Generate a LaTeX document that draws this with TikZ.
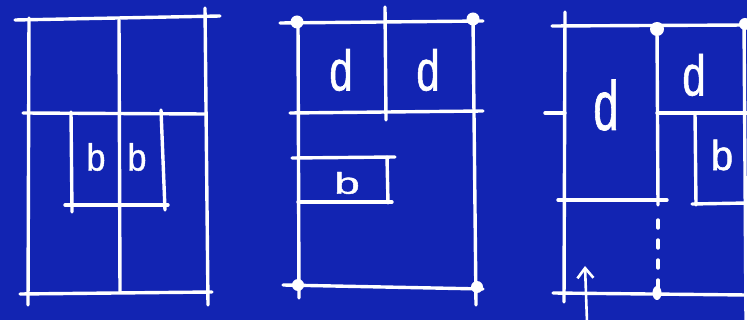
\documentclass[tikz,border=0pt]{standalone}
\usepackage{fontspec}
\setmainfont{Liberation Sans}
\newfontfamily\handf[FakeBold=1.2]{Liberation Sans}
\usetikzlibrary{arrows.meta}
\definecolor{bp}{RGB}{18,36,178}
\tikzset{
  ln/.style={draw=white,line width=3.4pt,line cap=round},
  dot/.style={fill=white},
  lbl/.style={text=white,inner sep=0pt,anchor=center,font=\handf}
}
\newcommand{\hand}[4]{\scalebox{#2}[#3]{\fontsize{#1}{#1}\selectfont #4}}
\begin{document}
\begin{tikzpicture}[x=1pt,y=-1pt]
\fill[bp] (0,0) rectangle (747,320);
\useasboundingbox (0,0) rectangle (747,320);
% ---------- panel 1 ----------
\draw[ln] (15,20) -- (220,16);
\draw[ln] (29,18) -- (28,305);
\draw[ln] (205,8) -- (208,305);
\draw[ln] (119,20) -- (120,292);
\draw[ln] (23,113) -- (205,114);
\draw[ln] (71,112) -- (72,212);
\draw[ln] (161,110) -- (165,210);
\draw[ln] (65,205) -- (168,205);
\draw[ln] (20,294) -- (212,292);
\node[lbl] (b1) at (96,157) {\hand{36}{0.95}{1.05}{b}};
\node[lbl] (b2) at (137,157) {\hand{36}{0.95}{1.05}{b}};
% ---------- panel 2 ----------
\draw[ln] (280,23) -- (483,21);
\draw[ln] (298,22) -- (299,298);
\draw[ln] (473,18) -- (476,305);
\draw[ln] (385,7) -- (386,120);
\draw[ln] (290,113) -- (483,111);
\draw[ln] (292,158) -- (395,157);
\draw[ln] (298,202) -- (392,202);
\draw[ln] (387,157) -- (388,203);
\draw[ln] (283,285) -- (483,289);
\fill[dot] (297,22) circle (6.5);
\fill[dot] (473,19) circle (6.5);
\fill[dot] (298,285) circle (6);
\fill[dot] (477,287) circle (6);
\node[lbl] (d1) at (341,70) {\hand{44}{0.95}{1.3}{d}};
\node[lbl] (d2) at (428,70) {\hand{44}{0.95}{1.3}{d}};
\node[lbl] (b3) at (347,183) {\hand{40}{1.15}{0.75}{b}};
% ---------- panel 3 ----------
\draw[ln] (552,26) -- (747,25);
\draw[ln] (565,12) -- (564,302);
\draw[ln] (545,113) -- (565,113);
\draw[ln] (657,29) -- (658,205);
\draw[ln,dash pattern=on 8pt off 12pt] (658,220) -- (658,290);
\draw[ln] (558,200) -- (667,200);
\draw[ln] (657,113) -- (747,113);
\draw[ln] (695,113) -- (696,205);
\draw[ln] (692,204) -- (747,203);
\draw[ln] (744,20) -- (746,320);
\draw[ln] (553,293) -- (747,295);
\fill[dot] (657,29) circle (7);
\fill[dot] (745,24) circle (6);
\fill[dot] (657,293) ellipse (4.5 and 7);
\coordinate (a0) at (587,322);
\coordinate (a1) at (585,266);
\draw[draw=white,line width=2.6pt,line cap=round,-{Straight Barb[length=10pt,width=16pt,line width=2.6pt]}] (a0) -- (a1);
\node[lbl] (d3) at (606,105) {\hand{48}{0.95}{1.45}{d}};
\node[lbl] (d4) at (694,75) {\hand{44}{0.95}{1.3}{d}};
\node[lbl] (b4) at (722,155) {\hand{40}{1}{1.05}{b}};
\end{tikzpicture}
\end{document}
